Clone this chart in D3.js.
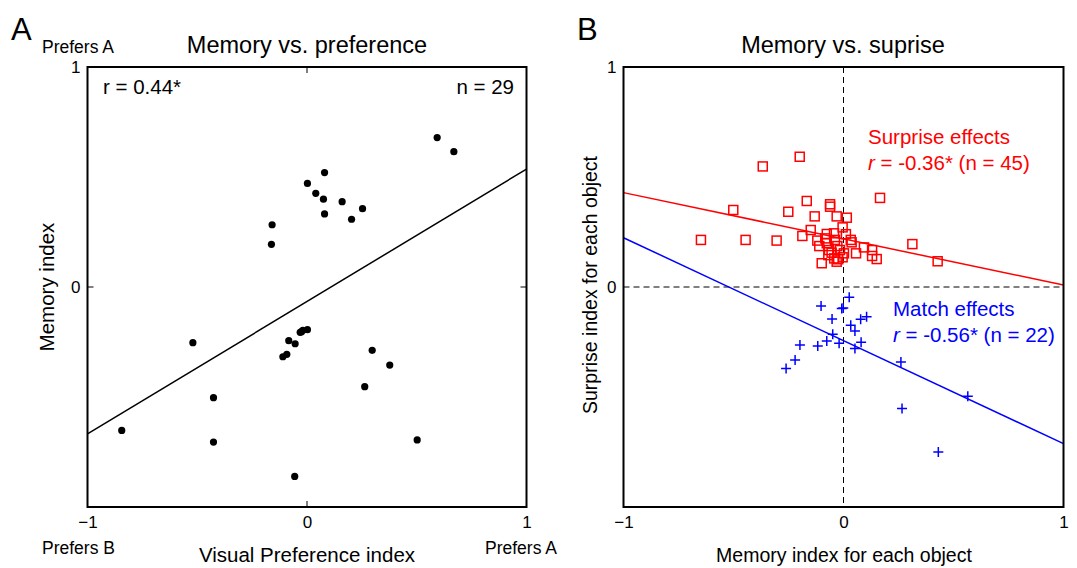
<!DOCTYPE html>
<html><head><meta charset="utf-8">
<script src="https://cdn.jsdelivr.net/npm/d3@7"></script>
<style>
body{margin:0;background:#fff;}
text{font-family:"Liberation Sans",Arial,Helvetica,sans-serif;}
</style></head>
<body><svg id="c" width="1077" height="568"></svg>
<script>
// Panel A: memory vs preference
const prefX = [0.593,0.669,0.080,0.002,0.040,0.075,0.160,0.253,0.080,0.203,-0.159,-0.162,
  -0.520,-0.844,-0.426,-0.426,-0.110,-0.092,-0.083,-0.054,-0.031,-0.019,0.002,0.297,0.377,0.263,0.502,-0.056,-0.025];
const memY  = [0.679,0.615,0.520,0.471,0.426,0.399,0.388,0.356,0.332,0.308,0.283,0.194,
  -0.253,-0.652,-0.503,-0.705,-0.317,-0.306,-0.244,-0.258,-0.206,-0.197,-0.194,-0.288,-0.355,-0.453,-0.695,-0.861,-0.203];
const fitAX = [-1, 1];
const fitAY = [-0.668, 0.536];

// Panel B: surprise effects (red squares)
const surpX = [-0.199,-0.367,0.166,-0.501,-0.167,-0.251,-0.131,-0.061,-0.061,-0.031,0.015,-0.648,-0.445,-0.304,-0.187,-0.149,0.313,0.428,-0.099,0.057,0.093,0.130,0.130,0.151,-0.004,0.011,0.033,0.037,
  -0.076,-0.043,-0.119,-0.110,-0.083,-0.076,-0.039,-0.028,-0.066,-0.054,-0.069,-0.016,-0.042,-0.024,-0.004,0.002,-0.031];
const surpY = [0.592,0.548,0.405,0.350,0.391,0.342,0.321,0.376,0.365,0.321,0.315,0.214,0.214,0.211,0.232,0.259,0.195,0.117,0.108,0.153,0.180,0.168,0.141,0.127,0.271,0.240,0.214,0.203,
  0.241,0.244,0.211,0.186,0.221,0.199,0.214,0.186,0.168,0.156,0.145,0.168,0.130,0.126,0.135,0.153,0.115];
// Panel B: match effects (blue crosses)
const matchX = [0.026,-0.102,-0.008,-0.001,-0.052,0.078,0.105,0.033,0.052,-0.049,-0.198,-0.117,-0.076,-0.020,0.052,0.080,-0.220,-0.261,0.261,0.565,0.266,0.431];
const matchY = [-0.047,-0.086,-0.098,-0.095,-0.145,-0.147,-0.135,-0.174,-0.200,-0.215,-0.264,-0.268,-0.245,-0.256,-0.279,-0.251,-0.332,-0.370,-0.341,-0.497,-0.552,-0.750];
const fitRedX = [-1, 1], fitRedY = [0.429, 0.009];
const fitBlueX = [-1, 1], fitBlueY = [0.224, -0.712];

const ticks = [-1, 0, 1];
const fmt = d => d < 0 ? "\u2212" + Math.abs(d) : String(d);

const svg = d3.select("#c");
const yTop = 67, yBot = 507;
const FT = 17, FL = 20.5, FTitle = 23.5, FP = 17.5, FLB = 19.5;

function panel(x0, x1) {
  const x = d3.scaleLinear().domain([-1, 1]).range([x0, x1]);
  const y = d3.scaleLinear().domain([-1, 1]).range([yBot, yTop]);
  return {x, y};
}
function styleAxis(g) {
  g.select(".domain").remove();
  g.selectAll("text").attr("font-size", FT).attr("fill", "#000").attr("font-family", "Liberation Sans, Arial, sans-serif");
}

// ---------- Panel A ----------
const A = panel(87.5, 526.5);
const gA = svg.append("g");
gA.append("g").attr("transform", `translate(0,${yBot})`)
  .call(d3.axisBottom(A.x).tickValues(ticks).tickSize(0).tickPadding(9).tickFormat(fmt))
  .call(styleAxis);
gA.append("g").attr("transform", `translate(${A.x(-1)},0)`)
  .call(d3.axisLeft(A.y).tickValues([0, 1]).tickSize(0).tickPadding(7).tickFormat(fmt))
  .call(styleAxis);
// inner ticks
[[A.x(0), yTop, A.x(0), yTop + 6], [A.x(0), yBot, A.x(0), yBot - 6], [A.x(-1), A.y(0), A.x(-1) + 6, A.y(0)], [A.x(1), A.y(0), A.x(1) - 6, A.y(0)]]
  .forEach(t => gA.append("line").attr("x1", t[0]).attr("y1", t[1]).attr("x2", t[2]).attr("y2", t[3]).attr("stroke", "#000").attr("stroke-width", 1));
// fit line
gA.append("line").attr("x1", A.x(fitAX[0])).attr("y1", A.y(fitAY[0])).attr("x2", A.x(fitAX[1])).attr("y2", A.y(fitAY[1]))
  .attr("stroke", "#000").attr("stroke-width", 1.5);
// points
gA.selectAll("circle").data(prefX).join("circle")
  .attr("cx", d => A.x(d)).attr("cy", (d, i) => A.y(memY[i])).attr("r", 3.6).attr("fill", "#000");
// box
gA.append("rect").attr("x", A.x(-1)).attr("y", yTop).attr("width", A.x(1) - A.x(-1)).attr("height", yBot - yTop)
  .attr("fill", "none").attr("stroke", "#000").attr("stroke-width", 2);
// texts
gA.append("text").attr("x", 11).attr("y", 40).attr("font-size", 31).text("A");
gA.append("text").attr("x", 307).attr("y", 53).attr("text-anchor", "middle").attr("font-size", FTitle).text("Memory vs. preference");
gA.append("text").attr("x", 42).attr("y", 53).attr("font-size", FP).text("Prefers A");
gA.append("text").attr("x", 103).attr("y", 94).attr("font-size", FL).text("r = 0.44*");
gA.append("text").attr("x", 514).attr("y", 94).attr("text-anchor", "end").attr("font-size", FL).text("n = 29");
gA.append("text").attr("transform", `translate(54,${A.y(0)}) rotate(-90)`).attr("text-anchor", "middle").attr("font-size", FL).text("Memory index");
gA.append("text").attr("x", 42).attr("y", 554).attr("font-size", FP).text("Prefers B");
gA.append("text").attr("x", 557).attr("y", 554).attr("text-anchor", "end").attr("font-size", FP).text("Prefers A");
gA.append("text").attr("x", 307).attr("y", 562).attr("text-anchor", "middle").attr("font-size", FL).text("Visual Preference index");

// ---------- Panel B ----------
const B = panel(623.5, 1063.5);
const gB = svg.append("g");
gB.append("g").attr("transform", `translate(0,${yBot})`)
  .call(d3.axisBottom(B.x).tickValues(ticks).tickSize(0).tickPadding(9).tickFormat(fmt))
  .call(styleAxis);
gB.append("g").attr("transform", `translate(${B.x(-1)},0)`)
  .call(d3.axisLeft(B.y).tickValues([0, 1]).tickSize(0).tickPadding(7).tickFormat(fmt))
  .call(styleAxis);
// dashed zero lines
gB.append("line").attr("x1", B.x(0)).attr("x2", B.x(0)).attr("y1", yTop).attr("y2", yBot)
  .attr("stroke", "#000").attr("stroke-width", 1).attr("stroke-dasharray", "6,4");
gB.append("line").attr("x1", B.x(-1)).attr("x2", B.x(1)).attr("y1", B.y(0)).attr("y2", B.y(0))
  .attr("stroke", "#000").attr("stroke-width", 1).attr("stroke-dasharray", "6,4");
// fit lines
gB.append("line").attr("x1", B.x(fitRedX[0])).attr("y1", B.y(fitRedY[0])).attr("x2", B.x(fitRedX[1])).attr("y2", B.y(fitRedY[1]))
  .attr("stroke", "#ff0000").attr("stroke-width", 1.5);
gB.append("line").attr("x1", B.x(fitBlueX[0])).attr("y1", B.y(fitBlueY[0])).attr("x2", B.x(fitBlueX[1])).attr("y2", B.y(fitBlueY[1]))
  .attr("stroke", "#0000ff").attr("stroke-width", 1.5);
// squares
const sq = 9;
gB.selectAll("rect.sq").data(surpX).join("rect").attr("class", "sq")
  .attr("x", d => B.x(d) - sq / 2).attr("y", (d, i) => B.y(surpY[i]) - sq / 2)
  .attr("width", sq).attr("height", sq).attr("fill", "none").attr("stroke", "#ff0000").attr("stroke-width", 1.5);
// crosses
const cr = 5;
gB.selectAll("path.cr").data(matchX).join("path").attr("class", "cr")
  .attr("d", (d, i) => { const cx = B.x(d), cy = B.y(matchY[i]); return `M${cx - cr},${cy}H${cx + cr}M${cx},${cy - cr}V${cy + cr}`; })
  .attr("stroke", "#0000ff").attr("stroke-width", 1.5).attr("fill", "none");
// box
gB.append("rect").attr("x", B.x(-1)).attr("y", yTop).attr("width", B.x(1) - B.x(-1)).attr("height", yBot - yTop)
  .attr("fill", "none").attr("stroke", "#000").attr("stroke-width", 2);
// texts
gB.append("text").attr("x", 577).attr("y", 40).attr("font-size", 31).text("B");
gB.append("text").attr("x", 843).attr("y", 53).attr("text-anchor", "middle").attr("font-size", FTitle).text("Memory vs. suprise");
gB.append("text").attr("transform", `translate(597,${B.y(0) - 2}) rotate(-90)`).attr("text-anchor", "middle").attr("font-size", FLB).text("Surprise index for each object");
gB.append("text").attr("x", 844).attr("y", 562).attr("text-anchor", "middle").attr("font-size", FLB).text("Memory index for each object");
gB.append("text").attr("x", 868).attr("y", 144).attr("font-size", FL).attr("fill", "#ff0000").text("Surprise effects");
const tR = gB.append("text").attr("x", 868).attr("y", 170).attr("font-size", FL).attr("fill", "#ff0000");
tR.append("tspan").attr("font-style", "italic").text("r");
tR.append("tspan").text(" = -0.36* (n = 45)");
gB.append("text").attr("x", 893).attr("y", 316).attr("font-size", FL).attr("fill", "#0000ff").text("Match effects");
const tB = gB.append("text").attr("x", 893).attr("y", 342).attr("font-size", FL).attr("fill", "#0000ff");
tB.append("tspan").attr("font-style", "italic").text("r");
tB.append("tspan").text(" = -0.56* (n = 22)");
</script>
</body></html>
